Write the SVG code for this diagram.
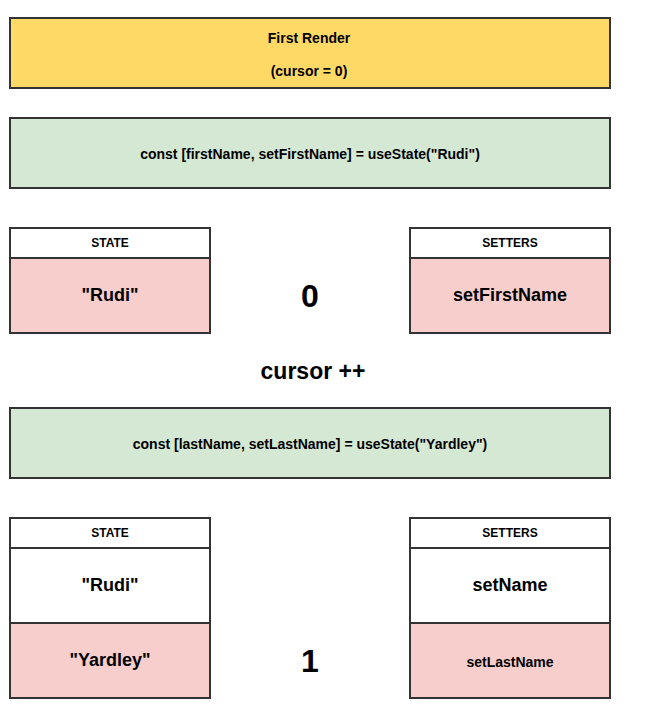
<svg xmlns="http://www.w3.org/2000/svg" width="661" height="728" viewBox="0 0 661 728">
  <style>
    text { font-family: "Liberation Sans", Arial, sans-serif; font-weight: bold; fill: #000; text-anchor: middle; dominant-baseline: central; }
    .box { stroke: #333; stroke-width: 2; }
    .yellow { fill: #FFD966; }
    .green { fill: #D5E8D4; }
    .pink { fill: #F8CECC; }
    .white { fill: #FFFFFF; }
    .s14 { font-size: 14px; }
    .s12 { font-size: 12px; }
    .s18 { font-size: 18px; }
    .s23 { font-size: 23px; }
    .s32 { font-size: 32px; }
  </style>
  <rect width="661" height="728" fill="#FFFFFF"/>

  <g id="first-render">
    <rect class="box yellow" x="10" y="18" width="600" height="70"/>
    <text class="s14" x="309" y="38">First Render</text>
    <text class="s14" x="309" y="71">(cursor = 0)</text>
  </g>

  <g id="use-state-first">
    <rect class="box green" x="10" y="118" width="600" height="70"/>
    <text class="s14" x="310" y="154">const [firstName, setFirstName] = useState("Rudi")</text>
  </g>

  <g id="state-0">
    <rect class="box white" x="10" y="228" width="200" height="30"/>
    <text class="s12" x="110" y="243">STATE</text>
    <rect class="box pink" x="10" y="258" width="200" height="75"/>
    <text class="s18" x="110" y="295">"Rudi"</text>
  </g>

  <g id="cursor-0">
    <text class="s32" x="310" y="296">0</text>
  </g>

  <g id="setters-0">
    <rect class="box white" x="410" y="228" width="200" height="30"/>
    <text class="s12" x="510" y="243">SETTERS</text>
    <rect class="box pink" x="410" y="258" width="200" height="75"/>
    <text class="s18" x="510" y="295">setFirstName</text>
  </g>

  <g id="cursor-inc">
    <text class="s23" x="313" y="371">cursor ++</text>
  </g>

  <g id="use-state-last">
    <rect class="box green" x="10" y="408" width="600" height="70"/>
    <text class="s14" x="310" y="444">const [lastName, setLastName] = useState("Yardley")</text>
  </g>

  <g id="state-1">
    <rect class="box white" x="10" y="518" width="200" height="30"/>
    <text class="s12" x="110" y="533">STATE</text>
    <rect class="box white" x="10" y="548" width="200" height="75"/>
    <text class="s18" x="110" y="585">"Rudi"</text>
    <rect class="box pink" x="10" y="623" width="200" height="75"/>
    <text class="s18" x="110" y="660">"Yardley"</text>
  </g>

  <g id="cursor-1">
    <text class="s32" x="310" y="661">1</text>
  </g>

  <g id="setters-1">
    <rect class="box white" x="410" y="518" width="200" height="30"/>
    <text class="s12" x="510" y="533">SETTERS</text>
    <rect class="box white" x="410" y="548" width="200" height="75"/>
    <text class="s18" x="510" y="585">setName</text>
    <rect class="box pink" x="410" y="623" width="200" height="75"/>
    <text class="s14" x="510" y="662">setLastName</text>
  </g>

  <g id="connectors"></g>
</svg>
